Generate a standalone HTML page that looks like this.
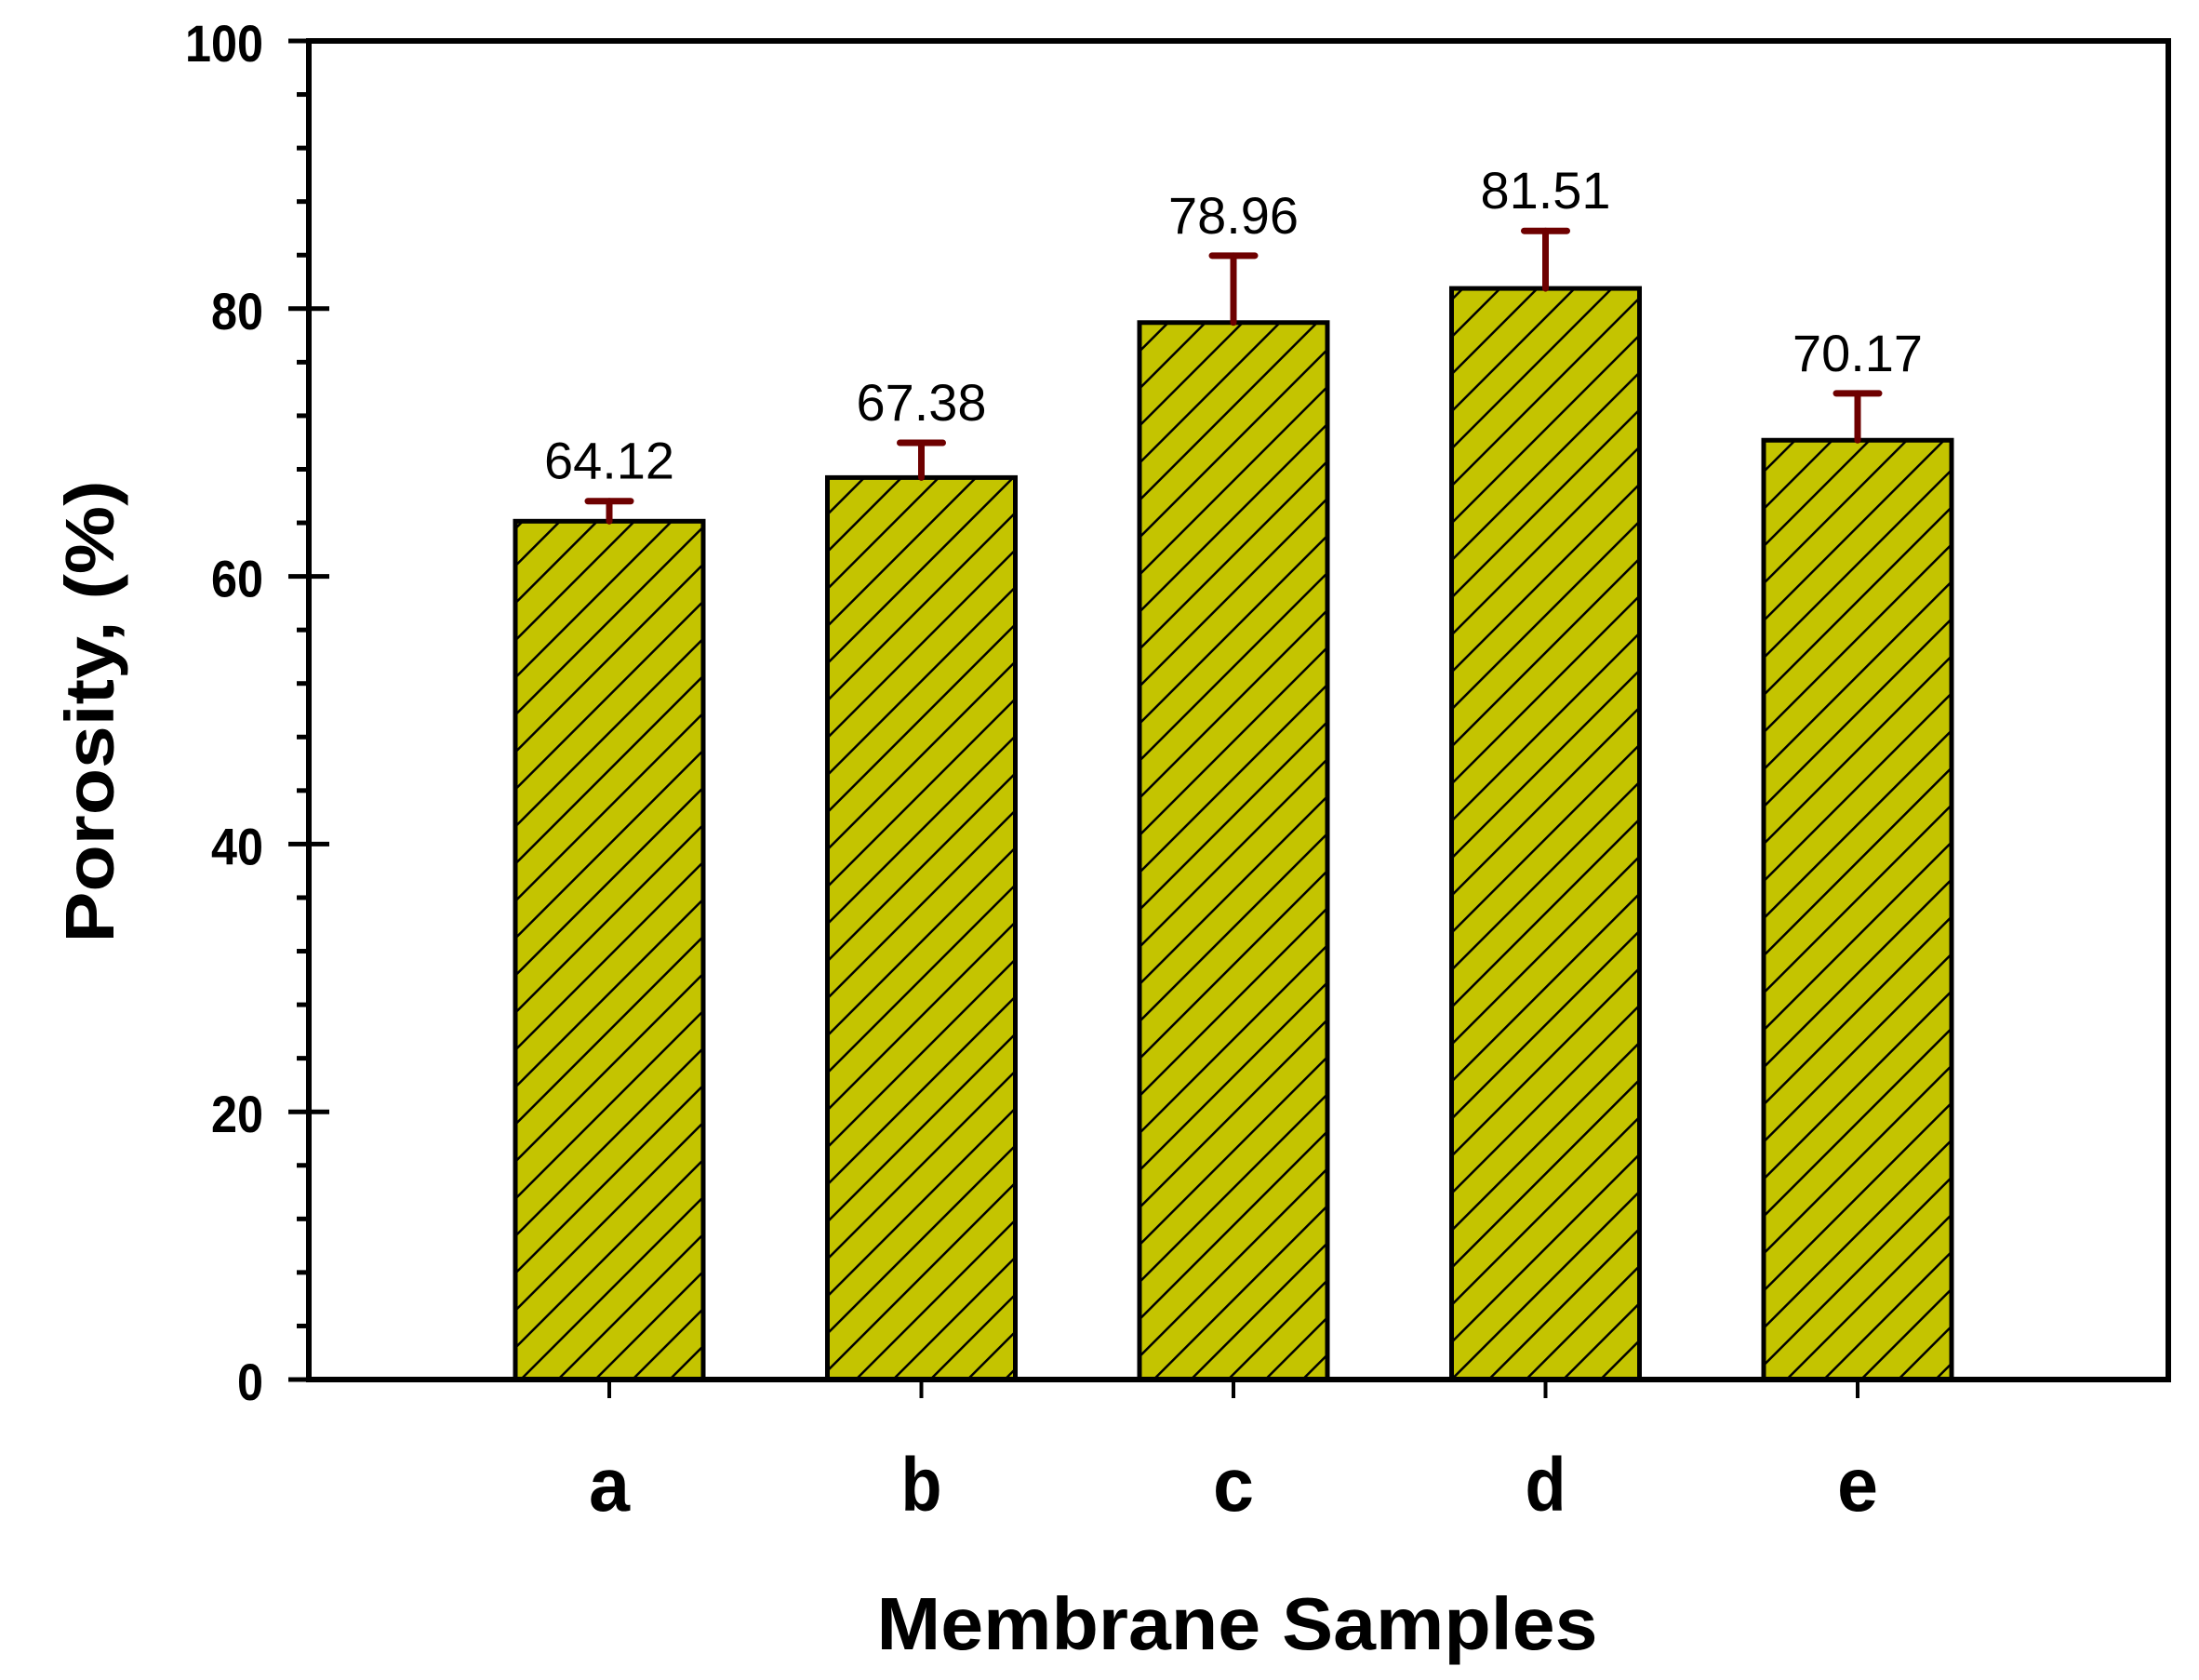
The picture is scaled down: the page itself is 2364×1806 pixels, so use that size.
<!DOCTYPE html>
<html><head><meta charset="utf-8"><style>
html,body{margin:0;padding:0;background:#fff;}
svg{display:block;font-family:"Liberation Sans",sans-serif;}
</style></head><body>
<svg id="chart" width="2364" height="1806" viewBox="0 0 2364 1806" xmlns="http://www.w3.org/2000/svg">
<defs>
<pattern id="hatch" patternUnits="userSpaceOnUse" width="28.3" height="28.3" patternTransform="rotate(45)">
<rect width="28.3" height="28.3" fill="#c4c400"/>
<line x1="0" y1="0" x2="0" y2="28.3" stroke="#000" stroke-width="5"/>
</pattern>
</defs>
<g id="plot"></g>
</svg>
<script>
const categories = ['a','b','c','d','e'];
const values = [64.12, 67.38, 78.96, 81.51, 70.17];
const errors = [1.5, 2.6, 5.0, 4.3, 3.5];
const valueLabels = ['64.12','67.38','78.96','81.51','70.17'];
const yTicks = [0, 20, 40, 60, 80, 100];

const NS='http://www.w3.org/2000/svg';
const L=332, R=2331, T=44, B=1483;
const x0=655, step=335.5, barW=202;
function yScale(v){return B-(v/100)*(B-T);}
function xScale(i){return x0+i*step;}
const g=document.getElementById('plot');
function el(tag,attrs,text){const e=document.createElementNS(NS,tag);for(const k in attrs)e.setAttribute(k,attrs[k]);if(text!==undefined)e.textContent=text;g.appendChild(e);return e;}

categories.forEach((c,i)=>{
  const cx=xScale(i), yt=yScale(values[i]);
  const r=el('rect',{x:cx-barW/2,y:yt,width:barW,height:B-yt,fill:'url(#hatch)',stroke:'#000','stroke-width':5});
  
  
  const ye=yScale(values[i]+errors[i]);
  const eb=el('line',{x1:cx,y1:yt,x2:cx,y2:ye,stroke:'#6e0000','stroke-width':7,'stroke-linecap':'round'});
  
  
  const cap=el('line',{x1:cx-23,y1:ye,x2:cx+23,y2:ye,stroke:'#6e0000','stroke-width':7,'stroke-linecap':'round'});
  
  
  const vl=el('text',{x:cx,y:ye-24,'text-anchor':'middle','font-size':56,fill:'#000',textLength:140,lengthAdjust:'spacingAndGlyphs'},valueLabels[i]);
  
  
  const tk=el('line',{x1:cx,y1:B,x2:cx,y2:B+20,stroke:'#000','stroke-width':4});
  
  
  const cl=el('text',{x:cx,y:1624,'text-anchor':'middle','font-size':82,'font-weight':'bold',fill:'#000',textLength:44,lengthAdjust:'spacingAndGlyphs'},c);
  
  
});

const fr=el('rect',{x:L,y:T,width:R-L,height:B-T,fill:'none',stroke:'#000','stroke-width':6});



for(let v=0;v<=100;v+=4){
  const y=yScale(v);
  const major=v%20===0;
  const t=el('line',{x1:major?L-22:L-13,y1:y,x2:major?L+22:L,y2:y,stroke:'#000','stroke-width':5});
  
  
}
yTicks.forEach(v=>{
  const s=String(v);
  const t=el('text',{x:283,y:yScale(v)+22,'text-anchor':'end','font-size':56,'font-weight':'bold',fill:'#000',textLength:s.length*28,lengthAdjust:'spacingAndGlyphs'},s);
  
  
});

const yt=el('text',{x:0,y:0,'text-anchor':'middle','font-size':74,'font-weight':'bold',fill:'#000',transform:'translate(122,765) rotate(-90)',textLength:497,lengthAdjust:'spacingAndGlyphs'},'Porosity, (%)');


const xt=el('text',{x:1330,y:1773,'text-anchor':'middle','font-size':80,'font-weight':'bold',fill:'#000',textLength:775,lengthAdjust:'spacingAndGlyphs'},'Membrane Samples');


</script>
</body></html>
